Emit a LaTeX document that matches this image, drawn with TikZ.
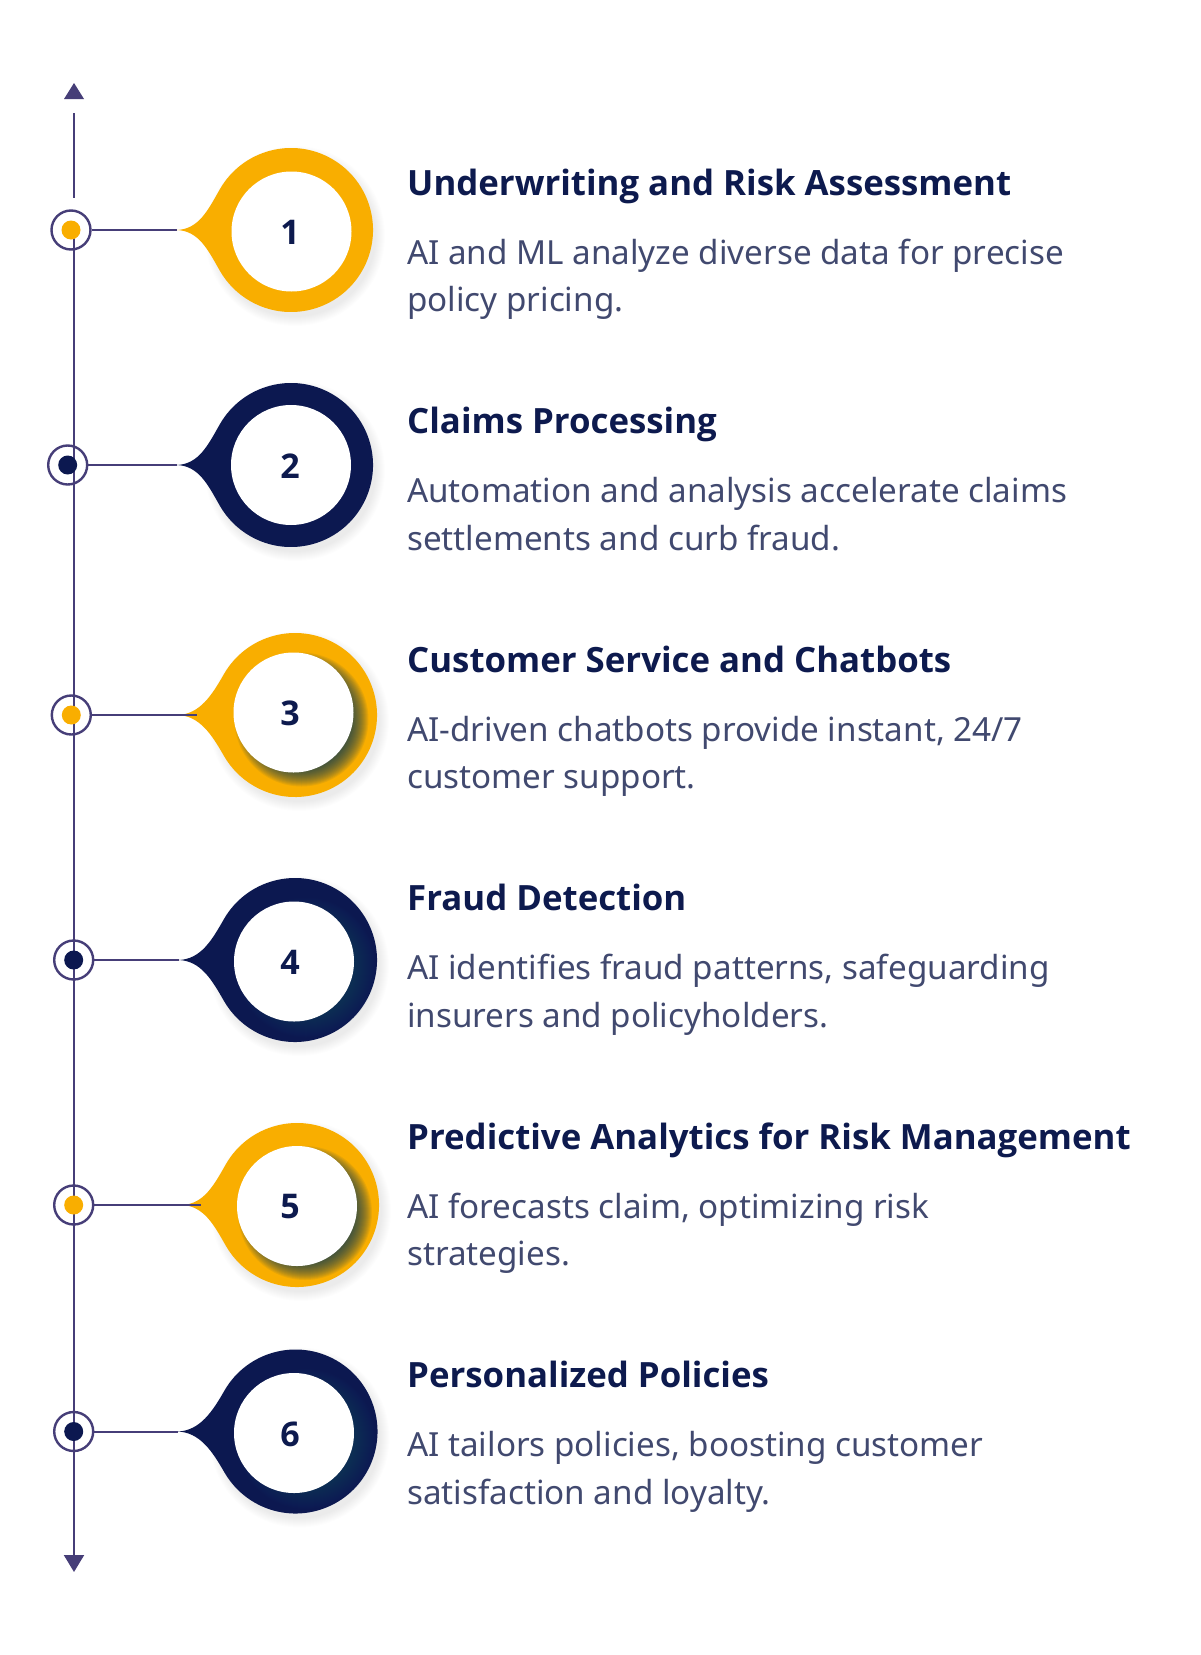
\documentclass[tikz,border=0pt]{standalone}
\usepackage{fontspec}
\setmainfont{Noto Sans}
\newfontfamily\tfont{Open Sans}
\usetikzlibrary{arrows.meta}
\definecolor{gold}{HTML}{F9AE00}
\definecolor{navy}{HTML}{0C1850}
\definecolor{linec}{HTML}{463E78}
\definecolor{titlec}{HTML}{0D1A4E}
\definecolor{descc}{HTML}{41496F}
\definecolor{shadeteal}{HTML}{0F3D55}
\definecolor{glowteal}{HTML}{0E5272}
\newcommand\dropath[3]{(#3,#2) .. controls (#3+22,#2-1) and (#1-83,#2-20) .. (#1-71,#2-41) arc[start angle=210,end angle=510,radius=82] .. controls (#1-83,#2+20) and (#3+22,#2+1) .. (#3,#2) -- cycle}
\begin{document}
\begin{tikzpicture}[x=1bp,y=-1bp,
  axis/.style={draw=linec,line width=2bp},
  markc/.style={circle,draw=linec,line width=2.4bp,minimum size=39bp,inner sep=0pt},
  conn/.style={draw=linec,line width=2bp},
  num/.style={font=\fontsize{34bp}{38bp}\tfont\bfseries,text=titlec,inner sep=0pt},
  ttl/.style={anchor=base west,inner sep=0pt,font=\fontsize{34.8bp}{40bp}\tfont\bfseries,text=titlec},
  dsc/.style={anchor=base west,inner sep=0pt,font=\fontsize{33.2bp}{47.5bp}\selectfont,text=descc}]
\useasboundingbox (0,0) rectangle (1200,1655);
\fill[white] (0,0) rectangle (1200,1655);

% axis
\coordinate (atip) at (74,83);
\coordinate (a1) at (74,113);
\coordinate (a2) at (74,198);
\coordinate (a3) at (74,231);
\coordinate (bot) at (74,1572);
\fill[linec] (atip) -- (84,99) -- (64,99) -- cycle;
\draw[axis] (a1) -- (a2);
\draw[axis,-{Triangle[width=20bp,length=17bp]}] (a3) -- (bot);

\foreach \n/\cx/\cy/\ix/\iy/\tx/\mx/\col/\le in {
1/291/230/291.5/231.5/177/71/gold/177,
2/291/465/291/465/177/67.7/navy/177,
3/295/715/293.5/712.5/178/71.3/gold/197,
4/295/960/294/961.5/179/73.7/navy/179,
5/297/1205/297/1206/182/73.7/gold/201,
6/295.5/1431.5/294/1433/178/73.7/navy/178}
{
  \foreach \k in {0,...,9} \fill[black,opacity=0.009] (\cx+4,\cy+6) circle[radius=81+\k];
  \fill[\col] \dropath{\cx}{\cy}{\tx};
  \coordinate (t\n) at (\tx,\cy);
  \coordinate (e\n) at (\le,\cy);
}
% inner shadows on gold rings 3 and 5
\foreach \ix/\iy in {293.5/712.5,297/1206}
  \foreach \r in {48,...,67} \fill[shadeteal,opacity=0.075] (\ix+8,\iy+7) circle[radius=\r];
% teal glow on navy rings 4 and 6
\foreach \ix/\iy in {294/961.5,294/1433}
  \foreach \r in {50,...,70} \fill[glowteal,opacity=0.03] (\ix+12,\iy+6) circle[radius=\r];

\foreach \n/\cx/\cy/\ix/\iy/\mx/\col in {
1/291/230/291.5/231.5/71/gold,
2/291/465/291/465/67.7/navy,
3/295/715/293.5/712.5/71.3/gold,
4/295/960/294/961.5/73.7/navy,
5/297/1205/297/1206/73.7/gold,
6/295.5/1431.5/294/1433/73.7/navy}
{
  \fill[white] (\ix,\iy) circle[radius=60];
  \node[num] (n\n) at (290,\iy+1) {\n};
  \node[markc] (m\n) at (\mx,\cy) {};
  \draw[conn] (m\n) -- (e\n);
  \fill[\col] (m\n.center) circle[radius=9.5];
}

% texts
\node[ttl] (h1) at (407,195) {Underwriting and Risk Assessment};
\node[dsc] (d1) at (407,264) {\begin{tabular}[t]{@{}l@{}}AI and ML analyze diverse data for precise\\policy pricing.\end{tabular}};
\node[ttl] (h2) at (407,433.5) {Claims Processing};
\node[dsc] (d2) at (407,502.5) {\begin{tabular}[t]{@{}l@{}}Automation and analysis accelerate claims\\settlements and curb fraud.\end{tabular}};
\node[ttl] (h3) at (407,672) {Customer Service and Chatbots};
\node[dsc] (d3) at (407,741) {\begin{tabular}[t]{@{}l@{}}AI-driven chatbots provide instant, 24/7\\customer support.\end{tabular}};
\node[ttl] (h4) at (407,910.5) {Fraud Detection};
\node[dsc] (d4) at (407,979.5) {\begin{tabular}[t]{@{}l@{}}AI identifies fraud patterns, safeguarding\\insurers and policyholders.\end{tabular}};
\node[ttl] (h5) at (407,1149) {Predictive Analytics for Risk Management};
\node[dsc] (d5) at (407,1218) {\begin{tabular}[t]{@{}l@{}}AI forecasts claim, optimizing risk\\strategies.\end{tabular}};
\node[ttl] (h6) at (407,1387.5) {Personalized Policies};
\node[dsc] (d6) at (407,1456.5) {\begin{tabular}[t]{@{}l@{}}AI tailors policies, boosting customer\\satisfaction and loyalty.\end{tabular}};
\end{tikzpicture}
\end{document}
